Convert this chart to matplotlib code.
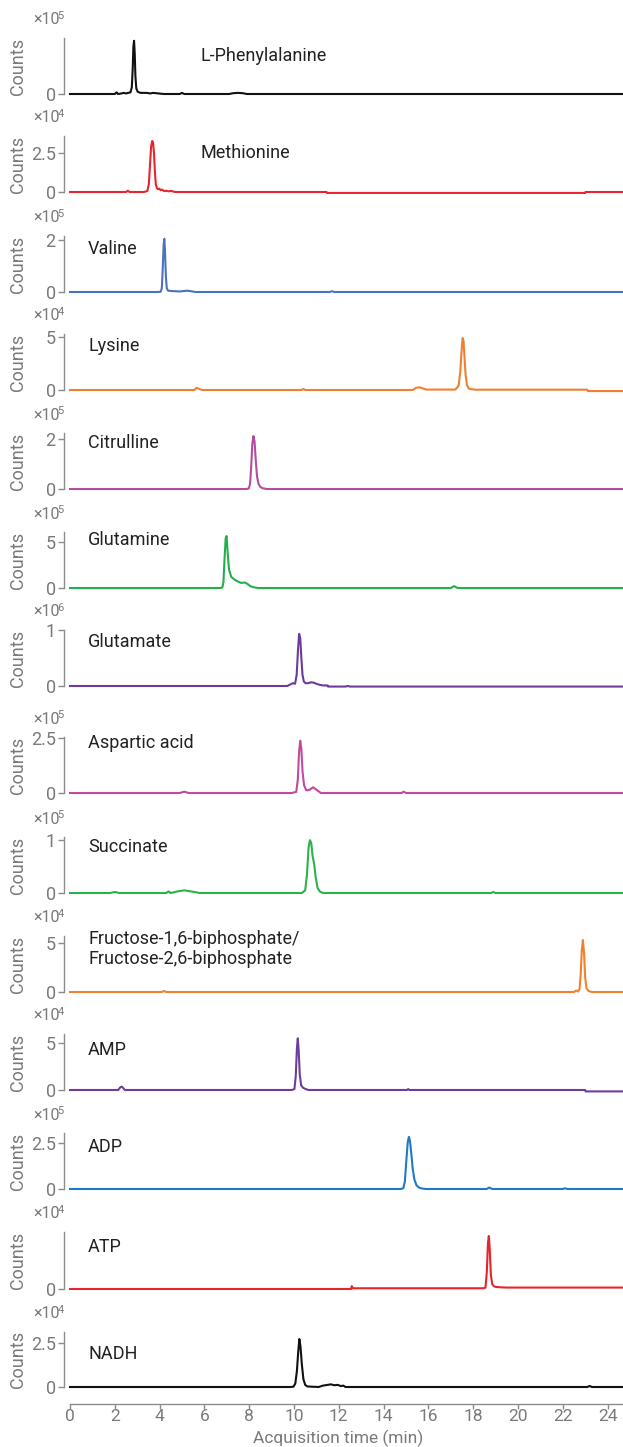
import matplotlib
matplotlib.use("Agg")
import matplotlib.pyplot as plt

plt.rcParams['font.family'] = ['Roboto', 'DejaVu Sans']

W, H_FIG = 623, 1447

# ---- chromatogram data (time in min, counts in units of the panel multiplier) ----
names = ["L-Phenylalanine", "Methionine", "Valine", "Lysine", "Citrulline",
         "Glutamine", "Glutamate", "Aspartic acid", "Succinate",
         "Fructose-1,6-biphosphate/\nFructose-2,6-biphosphate",
         "AMP", "ADP", "ATP", "NADH"]
exponents = [5, 4, 5, 4, 5, 5, 6, 5, 5, 4, 4, 5, 4, 4]
yticks = [[0], [0, 2.5], [0, 2], [0, 5], [0, 2], [0, 5], [0, 1], [0, 2.5],
          [0, 1], [0, 5], [0, 5], [0, 2.5], [0], [0, 2.5]]
ytops = [1.0, 3.59, 2.15, 5.28, 2.24, 6.09, 1.0, 2.55, 1.06, 5.71, 5.96, 3.04, 4.0, 3.12]
colors = ['#111111', '#e8252d', '#4a72c0', '#f07f30', '#b44d9e', '#22b04a',
          '#6e3a9a', '#c04a9e', '#2cb24b', '#f2812f', '#6e3c9c', '#1f78c8',
          '#e8232b', '#111111']

phe_t = [0.0, 2.0, 2.08, 2.14, 2.3, 2.4, 2.5, 2.6, 2.7, 2.76, 2.80, 2.83, 2.86, 2.89, 2.92,
         2.96, 3.02, 3.15, 3.4, 3.6, 3.7, 4.2, 4.9, 5.0, 5.1, 7.1, 7.3, 7.5, 7.7, 7.9, 24.7]
phe_v = [0.0, 0.0, 0.03, 0.0, 0.01, 0.02, 0.01, 0.02, 0.03, 0.12, 0.45, 0.85, 0.95, 0.72, 0.32,
         0.1, 0.04, 0.02, 0.02, 0.01, 0.02, 0.0, 0.0, 0.02, 0.0, 0.0, 0.015, 0.02, 0.015, 0.0, 0.0]

met_t = [0.0, 2.5, 2.58, 2.66, 3.3, 3.45, 3.52, 3.57, 3.62, 3.67, 3.71, 3.75, 3.79, 3.83, 3.88,
         3.93, 3.98, 4.05, 4.12, 4.2, 4.3, 4.4, 4.5, 4.7, 11.45, 11.47, 23.0, 23.02, 24.7]
met_v = [0.0, 0.0, 0.08, 0.0, 0.0, 0.06, 0.5, 1.7, 2.9, 3.27, 3.15, 2.5, 1.3, 0.5, 0.25,
         0.18, 0.22, 0.12, 0.15, 0.06, 0.08, 0.04, 0.07, 0.0, 0.0, -0.06, -0.06, 0.0, 0.0]

val_t = [0.0, 3.9, 4.05, 4.1, 4.14, 4.18, 4.21, 4.24, 4.28, 4.32, 4.38, 4.5, 4.7, 4.9, 5.1,
         5.25, 5.4, 5.6, 11.6, 11.7, 11.8, 24.7]
val_v = [0.0, 0.0, 0.01, 0.15, 0.9, 1.8, 2.04, 1.6, 0.6, 0.15, 0.05, 0.04, 0.03, 0.02, 0.04,
         0.05, 0.03, 0.0, 0.0, 0.03, 0.0, 0.0]

lys_t = [0.0, 5.55, 5.65, 5.75, 5.9, 10.35, 10.42, 10.5, 15.3, 15.45, 15.6, 15.75, 15.9, 17.2,
         17.35, 17.42, 17.48, 17.53, 17.57, 17.61, 17.66, 17.72, 17.8, 17.9, 18.1, 23.1, 23.12, 24.7]
lys_v = [0.0, 0.0, 0.2, 0.12, 0.0, 0.0, 0.1, 0.0, 0.0, 0.2, 0.26, 0.15, 0.04, 0.04,
         0.4, 1.6, 3.6, 4.9, 4.6, 3.2, 1.5, 0.5, 0.15, 0.08, 0.03, 0.03, -0.1, -0.1]

cit_t = [0.0, 7.85, 7.98, 8.04, 8.09, 8.14, 8.19, 8.24, 8.29, 8.35, 8.42, 8.5, 8.6, 8.8, 24.7]
cit_v = [0.0, 0.0, 0.02, 0.2, 0.9, 1.8, 2.12, 1.9, 1.2, 0.5, 0.2, 0.08, 0.03, 0.0, 0.0]

gln_t = [0.0, 6.7, 6.8, 6.85, 6.9, 6.95, 6.99, 7.04, 7.1, 7.2, 7.35, 7.5, 7.65, 7.8, 7.92,
         8.05, 8.2, 8.4, 17.0, 17.15, 17.3, 24.7]
gln_v = [0.0, 0.0, 0.05, 0.6, 3.2, 5.4, 5.65, 3.8, 2.0, 1.2, 0.9, 0.7, 0.55, 0.6, 0.45,
         0.2, 0.08, 0.0, 0.0, 0.2, 0.0, 0.0]

glu_t = [0.0, 9.7, 9.85, 9.95, 10.05, 10.12, 10.18, 10.23, 10.28, 10.33, 10.38, 10.44, 10.52,
         10.62, 10.75, 10.88, 11.0, 11.15, 11.3, 11.5, 11.52, 12.3, 12.4, 12.5, 24.7]
glu_v = [0.0, 0.0, 0.03, 0.05, 0.04, 0.2, 0.65, 0.93, 0.85, 0.5, 0.2, 0.08, 0.05,
         0.05, 0.065, 0.06, 0.04, 0.02, 0.01, 0.01, -0.01, -0.01, 0.0, -0.01, -0.01]

asp_t = [0.0, 4.9, 5.1, 5.3, 9.9, 10.1, 10.17, 10.23, 10.28, 10.33, 10.38, 10.45, 10.55, 10.7,
         10.85, 11.0, 11.2, 14.8, 14.9, 15.0, 24.7]
asp_v = [0.0, 0.0, 0.06, 0.0, 0.0, 0.05, 0.6, 1.9, 2.38, 2.0, 1.0, 0.35, 0.12, 0.15,
         0.26, 0.15, 0.0, 0.0, 0.06, 0.0, 0.0]

suc_t = [0.0, 1.8, 2.0, 2.2, 4.3, 4.4, 4.5, 4.8, 5.1, 5.4, 5.8, 10.35, 10.5, 10.58, 10.65,
         10.71, 10.77, 10.83, 10.9, 10.97, 11.05, 11.15, 11.3, 18.8, 18.9, 19.0, 24.7]
suc_v = [0.0, 0.0, 0.02, 0.0, 0.0, 0.03, 0.0, 0.03, 0.05, 0.03, 0.0, 0.0, 0.05, 0.35, 0.85,
         1.0, 0.95, 0.7, 0.55, 0.3, 0.1, 0.03, 0.0, 0.0, 0.02, 0.0, 0.0]

fru_t = [0.0, 4.1, 4.2, 4.3, 22.5, 22.6, 22.68, 22.75, 22.8, 22.85, 22.9, 22.95, 23.0, 23.06,
         23.15, 23.3, 24.7]
fru_v = [0.0, 0.0, 0.1, 0.0, 0.0, 0.15, 0.05, 0.3, 1.8, 4.2, 5.3, 4.0, 1.5, 0.4,
         0.1, 0.0, 0.0]

amp_t = [0.0, 2.15, 2.25, 2.32, 2.45, 9.9, 10.02, 10.08, 10.13, 10.17, 10.21, 10.26, 10.32,
         10.4, 10.5, 10.65, 15.05, 15.1, 15.15, 23.0, 23.02, 24.7]
amp_v = [0.0, 0.0, 0.3, 0.35, 0.0, 0.0, 0.1, 1.5, 4.4, 5.5, 4.2, 1.6, 0.5,
         0.25, 0.12, 0.0, 0.0, 0.1, 0.0, 0.0, -0.15, -0.15]

adp_t = [0.0, 14.75, 14.88, 14.95, 15.02, 15.08, 15.13, 15.18, 15.24, 15.3, 15.38, 15.47,
         15.58, 15.7, 15.9, 18.6, 18.72, 18.85, 22.0, 22.1, 22.2, 24.7]
adp_v = [0.0, 0.0, 0.04, 0.4, 1.6, 2.55, 2.83, 2.6, 1.9, 1.1, 0.5, 0.2,
         0.08, 0.03, 0.0, 0.0, 0.08, 0.0, 0.0, 0.04, 0.0, 0.0]

atp_t = [0.0, 12.55, 12.58, 12.62, 12.7, 18.45, 18.55, 18.61, 18.66, 18.70, 18.74, 18.79,
         18.85, 18.92, 19.0, 19.2, 19.5, 24.7]
atp_v = [0.0, 0.0, 0.2, 0.06, 0.05, 0.05, 0.1, 1.2, 3.2, 3.72, 2.8, 1.0,
         0.35, 0.2, 0.15, 0.12, 0.1, 0.1]

nad_t = [0.0, 9.85, 9.98, 10.06, 10.13, 10.19, 10.24, 10.29, 10.35, 10.42, 10.5, 10.6, 11.1,
         11.3, 11.5, 11.65, 11.8, 11.95, 12.1, 12.2, 12.3, 23.1, 23.2, 23.3, 24.7]
nad_v = [0.0, 0.0, 0.02, 0.2, 0.9, 2.0, 2.72, 2.3, 1.3, 0.45, 0.12, 0.03, 0.0,
         0.08, 0.12, 0.15, 0.1, 0.12, 0.05, 0.08, 0.0, 0.0, 0.06, 0.0, 0.0]

traces = [(phe_t, phe_v), (met_t, met_v), (val_t, val_v), (lys_t, lys_v), (cit_t, cit_v),
          (gln_t, gln_v), (glu_t, glu_v), (asp_t, asp_v), (suc_t, suc_v), (fru_t, fru_v),
          (amp_t, amp_v), (adp_t, adp_v), (atp_t, atp_v), (nad_t, nad_v)]

x_ticks = list(range(0, 25, 2))
x_title = 'Acquisition time (min)'

# ---- layout (pixels) ----
zero_px = [94, 192, 292, 390, 489, 588, 686, 793, 893, 992, 1090, 1189, 1289, 1387]
panel_h = [56] * 12 + [57, 55]
label_dy = [38, 39, 43, 44, 46, 48, 44, 50, 46, 43, 40, 42, 42, 33]
label_x = [200, 200] + [88] * 12
margin = 4
ax_left = 64
x_lo, x_hi = -0.268, 24.69

GREY_AX = '#8c8c8c'
GREY_TXT = '#7a7a7a'
FS = 13

fig = plt.figure(figsize=(W / 100, H_FIG / 100), dpi=100)

for i, ((t, v), name) in enumerate(zip(traces, names)):
    z, h = zero_px[i], panel_h[i]
    top = ytops[i]
    ax = fig.add_axes([ax_left / W, 1 - (z + margin) / H_FIG,
                       (W - ax_left) / W, (h + margin) / H_FIG])
    ax.plot(t, v, color=colors[i], lw=1.5, clip_on=False, solid_joinstyle='round')
    ax.set_xlim(x_lo, x_hi)
    ax.set_ylim(-top * margin / h, top)
    ax.patch.set_alpha(0)

    for s in ('top', 'right', 'bottom'):
        ax.spines[s].set_visible(False)
    ax.spines['left'].set_color(GREY_AX)
    ax.spines['left'].set_linewidth(1.0)
    ax.spines['left'].set_bounds(0, top)

    ax.set_yticks(yticks[i])
    ax.set_yticklabels([f'{y:g}' for y in yticks[i]])
    ax.tick_params(axis='y', length=4, width=1, color=GREY_AX, labelcolor=GREY_TXT,
                   labelsize=FS, pad=2)

    if i == len(traces) - 1:
        ax.spines['bottom'].set_visible(True)
        ax.spines['bottom'].set_color(GREY_AX)
        ax.spines['bottom'].set_linewidth(1.0)
        ax.spines['bottom'].set_position(('outward', 9))
        ax.spines['bottom'].set_bounds(0, x_hi)
        ax.set_xticks(x_ticks)
        ax.tick_params(axis='x', length=3.5, width=1, color=GREY_AX, labelcolor=GREY_TXT,
                       labelsize=FS - 0.5, pad=0.5)
    else:
        ax.tick_params(axis='x', bottom=False, labelbottom=False)

    # compound name
    fig.text(label_x[i] / W, 1 - (z - label_dy[i]) / H_FIG, name, fontsize=FS,
             color='#222222', ha='left', va='center', linespacing=1.15)
    # y-axis title
    fig.text(18 / W, 1 - (z - h / 2) / H_FIG, 'Counts', fontsize=FS, color=GREY_TXT,
             rotation=90, ha='center', va='center')
    # multiplier
    fig.text(33 / W, 1 - (z - h - 18) / H_FIG, '×10', fontsize=FS - 1.5, color=GREY_TXT,
             ha='left', va='center')
    fig.text(57.5 / W, 1 - (z - h - 22) / H_FIG, str(exponents[i]), fontsize=FS - 5,
             color=GREY_TXT, ha='left', va='center')

# x-axis title under the bottom panel
fig.text((70 + 12 * 22.375) / W, 1 - 1438 / H_FIG, x_title, fontsize=FS - 0.5,
         color=GREY_TXT, ha='center', va='center')

fig.savefig('out.png', dpi=100)
